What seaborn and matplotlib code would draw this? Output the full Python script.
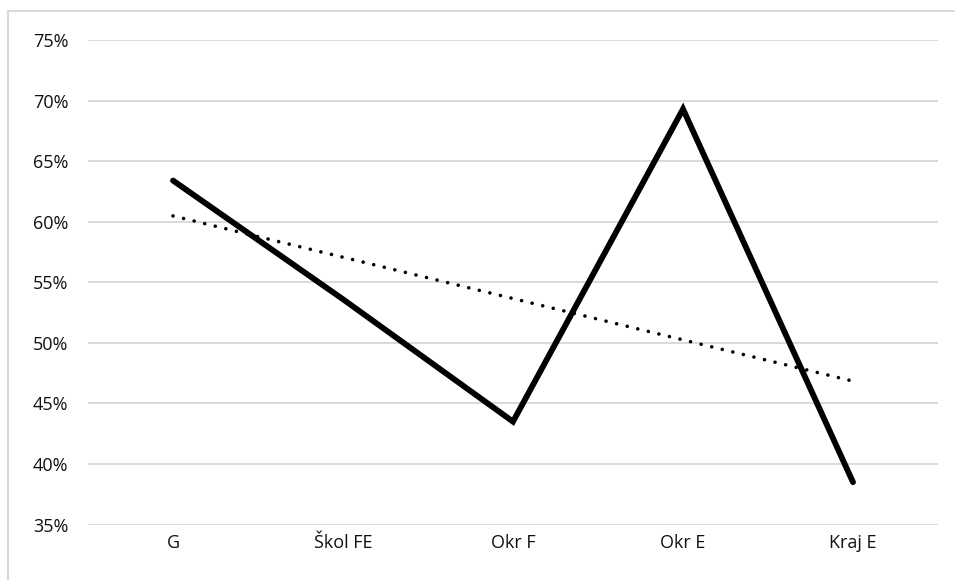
import numpy as np
import pandas as pd
import matplotlib
matplotlib.use("Agg")
import matplotlib.pyplot as plt
from matplotlib.lines import Line2D
from matplotlib.ticker import FuncFormatter
import seaborn as sns

# Share of positive answers by school level
categories = ["G", "Škol FE", "Okr F", "Okr E", "Kraj E"]
values = [63.4, 53.6, 43.5, 69.3, 38.5]
y_ticks = [35, 40, 45, 50, 55, 60, 65, 70, 75]

df = pd.DataFrame({"pos": np.arange(len(categories)), "cat": categories, "val": values})

sns.set_theme(style="white")
plt.rcParams["font.family"] = ["Open Sans", "DejaVu Sans"]

W, H, DPI = 955, 580, 100
fig = plt.figure(figsize=(W / DPI, H / DPI), dpi=DPI)
left, right, top, bottom = 88, 938, 40, 524.6
ax = fig.add_axes([left / W, 1 - bottom / H, (right - left) / W, (bottom - top) / H])

grid_c = "#d9d9d9"
for t in y_ticks:
    ax.axhline(t, color=grid_c, lw=1.4, zorder=0)

# Linear trend over the five categories
sns.regplot(data=df, x="pos", y="val", ax=ax, scatter=False, ci=None, truncate=True,
            line_kws=dict(color="black", lw=2.6, linestyle=(0, (0.01, 3.0)),
                          dash_capstyle="round", zorder=2))

sns.lineplot(data=df, x="pos", y="val", ax=ax, color="black", lw=4.2, zorder=3)
for ln in ax.lines[-1:]:
    ln.set_solid_capstyle("round")
    ln.set_solid_joinstyle("miter")

ax.set_xlim(-0.5, len(categories) - 0.5)
ax.set_ylim(35, 75)
ax.set_xticks(df["pos"])
ax.set_xticklabels(categories)
ax.set_yticks(y_ticks)
ax.yaxis.set_major_formatter(FuncFormatter(lambda v, _: f"{v:.0f}%"))
ax.tick_params(axis="both", length=0, labelsize=13, colors="#111111")
ax.tick_params(axis="y", pad=14)
ax.tick_params(axis="x", pad=7)
ax.set_xlabel("")
ax.set_ylabel("")
for s in ax.spines.values():
    s.set_visible(False)
ax.grid(False)

# Outer chart frame
fig.add_artist(Line2D([7.5 / W, 1.0], [1 - 10.5 / H, 1 - 10.5 / H], transform=fig.transFigure,
                      color=grid_c, lw=1.5))
fig.add_artist(Line2D([7.5 / W, 7.5 / W], [0.0, 1 - 10.5 / H], transform=fig.transFigure,
                      color=grid_c, lw=1.5))

fig.savefig("out.png", dpi=DPI)
